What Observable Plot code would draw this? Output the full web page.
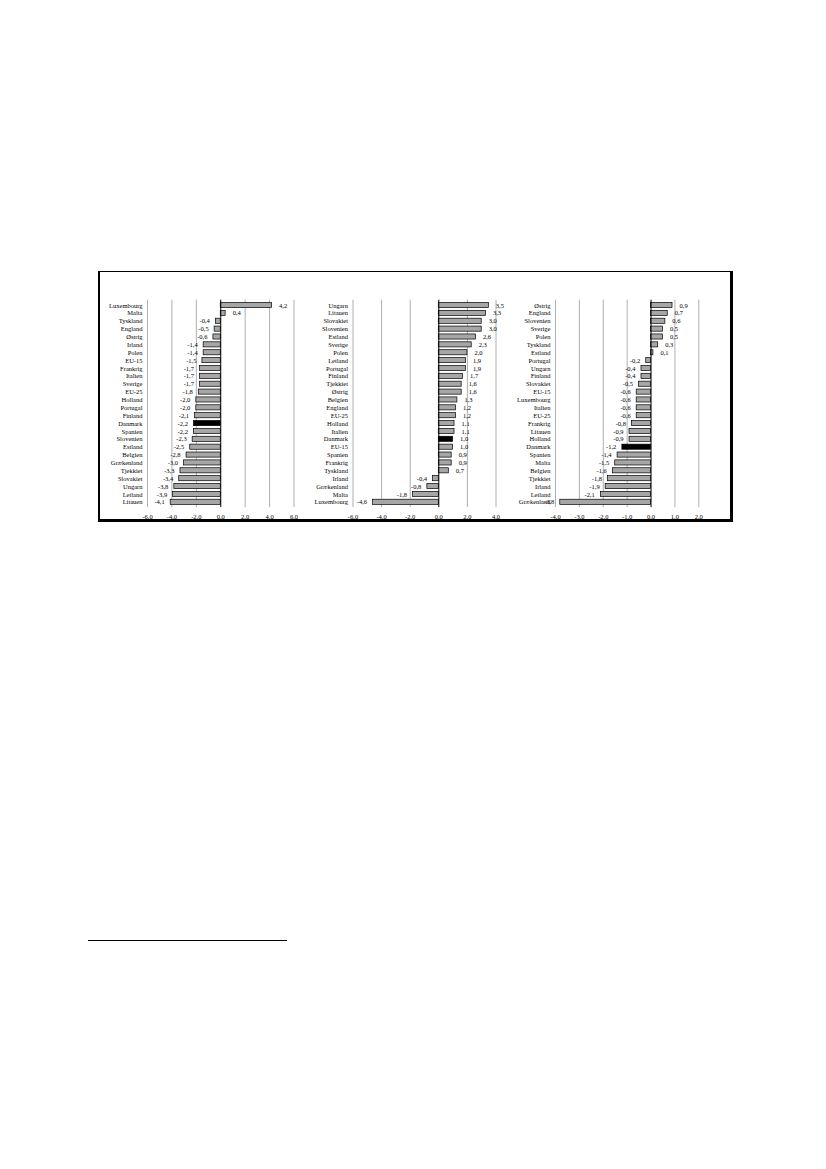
<!DOCTYPE html>
<html>
<head>
<meta charset="utf-8">
<script src="https://cdn.jsdelivr.net/npm/d3@7"></script>
<script src="https://cdn.jsdelivr.net/npm/@observablehq/plot@0.6"></script>
<style>
  html, body { margin: 0; padding: 0; background: #fff; }
  body { width: 826px; height: 1169px; position: relative; overflow: hidden; font-family: "Liberation Serif", serif; }
  #box { position: absolute; left: 98px; top: 271px; width: 630px; height: 247px;
         border-top: 1px solid #000; border-left: 2px solid #000; border-right: 3px solid #000; border-bottom: 3px solid #000; }
  .panel { position: absolute; }
  #footline { position: absolute; left: 88px; top: 940px; width: 199px; height: 1px; background: #000; }
</style>
</head>
<body>
<div id="box"></div>
<div id="p1" class="panel"></div>
<div id="p2" class="panel"></div>
<div id="p3" class="panel"></div>
<div id="footline"></div>
<script>
// Panel 1
const names1 = ["Luxembourg","Malta","Tyskland","England","Østrig","Irland","Polen","EU-15","Frankrig","Italien","Sverige","EU-25","Holland","Portugal","Finland","Danmark","Spanien","Slovenien","Estland","Belgien","Grækenland","Tjekkiet","Slovakiet","Ungarn","Letland","Litauen"];
const values1 = [4.2,0.4,-0.4,-0.5,-0.6,-1.4,-1.4,-1.5,-1.7,-1.7,-1.7,-1.8,-2.0,-2.0,-2.1,-2.2,-2.2,-2.3,-2.5,-2.8,-3.0,-3.3,-3.4,-3.8,-3.9,-4.1];
const ticks1 = [-6,-4,-2,0,2,4,6];

// Panel 2
const names2 = ["Ungarn","Litauen","Slovakiet","Slovenien","Estland","Sverige","Polen","Letland","Portugal","Finland","Tjekkiet","Østrig","Belgien","England","EU-25","Holland","Italien","Danmark","EU-15","Spanien","Frankrig","Tyskland","Irland","Grækenland","Malta","Luxembourg"];
const values2 = [3.5,3.3,3.0,3.0,2.6,2.3,2.0,1.9,1.9,1.7,1.6,1.6,1.3,1.2,1.2,1.1,1.1,1.0,1.0,0.9,0.9,0.7,-0.4,-0.8,-1.8,-4.6];
const ticks2 = [-6,-4,-2,0,2,4];

// Panel 3
const names3 = ["Østrig","England","Slovenien","Sverige","Polen","Tyskland","Estland","Portugal","Ungarn","Finland","Slovakiet","EU-15","Luxembourg","Italien","EU-25","Frankrig","Litauen","Holland","Danmark","Spanien","Malta","Belgien","Tjekkiet","Irland","Letland","Grækenland"];
const values3 = [0.9,0.7,0.6,0.5,0.5,0.3,0.1,-0.2,-0.4,-0.4,-0.5,-0.6,-0.6,-0.6,-0.6,-0.8,-0.9,-0.9,-1.2,-1.4,-1.5,-1.6,-1.8,-1.9,-2.1,-3.8];
const ticks3 = [-4,-3,-2,-1,0,1,2];

const highlight = "Danmark";

function panel(names, values, ticks, opts) {
  const data = names.map((n, i) => ({name: n, value: values[i]}));
  const lab = v => v.toFixed(1).replace(".", ",");
  return Plot.plot({
    width: opts.width,
    height: 252,
    marginLeft: opts.ml,
    marginRight: opts.mr,
    marginTop: 27.7,
    marginBottom: 16.9,
    style: {fontFamily: "Liberation Serif, serif", fontSize: "6.5px", background: "transparent", color: "#000", overflow: "visible"},
    x: {domain: [ticks[0], ticks[ticks.length - 1]]},
    y: {domain: names, padding: 0.35, round: false},
    marks: [
      Plot.ruleX(ticks.filter(t => t !== 0), {stroke: "#9a9a9a", strokeWidth: 0.8}),
      Plot.barX(data, {x: "value", y: "name",
        fill: d => d.name === highlight ? "#000" : "#a6a6a6",
        stroke: "#000", strokeWidth: 0.7}),
      Plot.ruleX([0], {stroke: "#000", strokeWidth: 1}),
      Plot.text(data.filter(d => d.value >= 0), {x: "value", y: "name", text: d => lab(d.value),
        textAnchor: "start", dx: 7, fontSize: 6.5, fill: "#000"}),
      Plot.text(data.filter(d => d.value < 0), {x: "value", y: "name", text: d => lab(d.value),
        textAnchor: "end", dx: -6, fontSize: 6.5, fill: "#000"}),
      Plot.axisY({tickSize: 0, tickPadding: 5, label: null, fontSize: 6.5, fill: "#000"}),
      Plot.axisX({ticks: ticks, tickFormat: d => d.toFixed(1), tickSize: 0, tickPadding: 7, label: null, fontSize: 6.5, fill: "#000"})
    ]
  });
}

const layout = [
  {id: "p1", left: 98, width: 205, ml: 49, mr: 9.5, names: names1, values: values1, ticks: ticks1},
  {id: "p2", left: 300, width: 205, ml: 52.5, mr: 9.5, names: names2, values: values2, ticks: ticks2},
  {id: "p3", left: 505, width: 226, ml: 50, mr: 32.7, names: names3, values: values3, ticks: ticks3}
];
for (const p of layout) {
  const el = document.getElementById(p.id);
  el.style.left = p.left + "px";
  el.style.top = "272px";
  el.appendChild(panel(p.names, p.values, p.ticks, p));
}
</script>
</body>
</html>
